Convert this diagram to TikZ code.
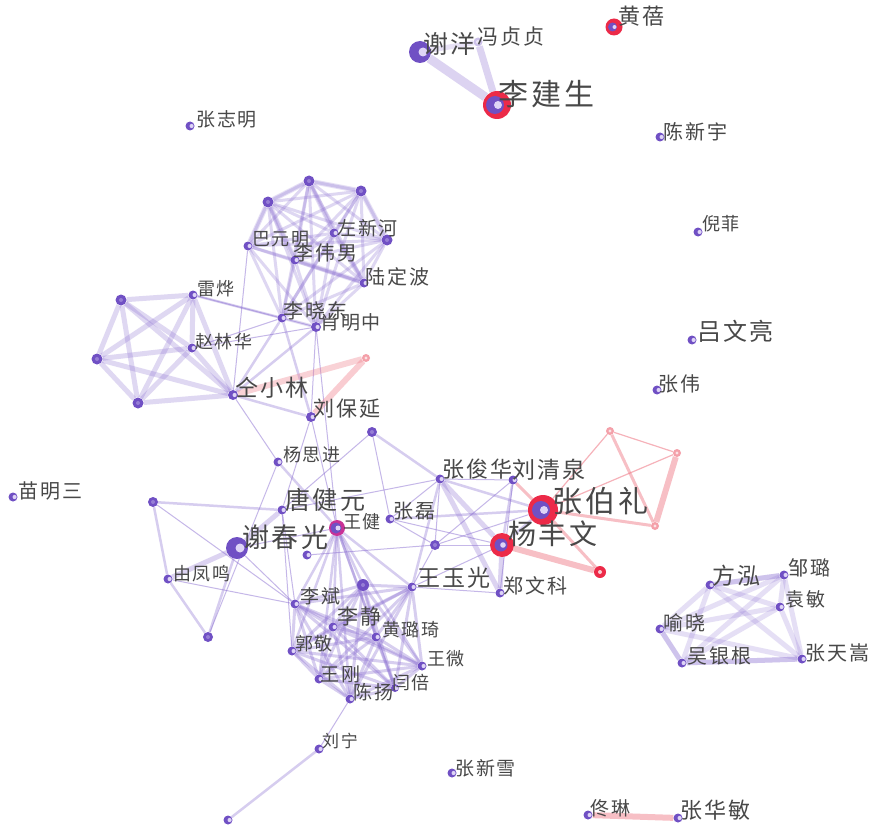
\documentclass[tikz,border=0pt]{standalone}
\usepackage{fontspec}
\newfontfamily\cjk[LetterSpace=10]{Noto Sans CJK SC}
\pgfdeclarelayer{back}
\pgfdeclarelayer{bg}
\pgfsetlayers{back,bg,main}
\definecolor{nodeP}{RGB}{112,80,196}
\definecolor{edgeP}{RGB}{140,112,210}
\definecolor{redN}{RGB}{236,42,72}
\definecolor{pinkE}{RGB}{240,128,140}
\definecolor{labG}{RGB}{72,72,72}
\definecolor{hiL}{RGB}{222,212,246}
\definecolor{magN}{RGB}{200,50,150}
\newcommand\fs[1]{\cjk\fontsize{#1}{#1}\selectfont}
\tikzset{
 nd/.style={circle,fill=nodeP,inner sep=0pt,minimum size=#1},
 nd/.default=9pt,
 rnd/.style={circle,fill=redN,inner sep=0pt,minimum size=#1},
 pnd/.style={circle,fill=pinkE!75,inner sep=0pt,minimum size=8pt},
 eT/.style={draw=edgeP,line width=1pt,opacity=.5},
 eM/.style={draw=edgeP,line width=2.5pt,opacity=.35},
 eK/.style={draw=edgeP,line width=5pt,opacity=.3},
 eV/.style={draw=edgeP,line width=9pt,opacity=.3},
 eC/.style={draw=edgeP,line width=3pt,opacity=.28},
 pT/.style={draw=pinkE,line width=1.2pt,opacity=.6},
 pM/.style={draw=pinkE,line width=3pt,opacity=.5},
 pK/.style={draw=pinkE,line width=6pt,opacity=.5},
 lab/.style={inner sep=0pt,anchor=west,text=labG},
}
\begin{document}
\begin{tikzpicture}[x=1pt,y=-1pt]
\useasboundingbox (0,0) rectangle (869,829);
\begin{pgfonlayer}{back}
\fill[white] (0,0) rectangle (869,829);
\end{pgfonlayer}
% ---------- nodes ----------
\node[nd=22pt] (xy) at (420,52) {};
\node[nd=9pt,fill=nodeP!35] (fzz) at (478,42) {};
\node[rnd=28pt] (ljs) at (497,105) {};
\node[rnd=17pt] (hb) at (614,27) {};
\node[nd] (zzm) at (190,126) {};
\node[nd] (cxy) at (660,137) {};
\node[nd] (nf) at (698,232) {};
\node[nd] (lwl) at (692,340) {};
\node[nd] (zw) at (657,390) {};
\node[nd] (mms) at (13,497) {};
% top cluster
\node[nd=11pt] (t1) at (309,181) {};
\node[nd=11pt] (t2) at (268,202) {};
\node[nd=11pt] (t3) at (361,191) {};
\node[nd] (zxh) at (334,233) {};
\node[nd=11pt] (t5) at (387,240) {};
\node[nd] (bym) at (248,246) {};
\node[nd] (lwn) at (295,260) {};
\node[nd] (ldb) at (364,283) {};
\node[nd] (lxd) at (282,318) {};
\node[nd=10pt] (xmz) at (316,327) {};
% left cluster
\node[nd] (ly) at (193,295) {};
\node[nd=11pt] (l1) at (121,300) {};
\node[nd=11pt] (l2) at (97,359) {};
\node[nd=11pt] (l3) at (138,403) {};
\node[nd] (zlh) at (192,348) {};
\node[nd=10pt] (txl) at (233,395) {};
\node[pnd] (p1) at (366,358) {};
\node[nd=10pt] (lby) at (311,417) {};
% middle
\node[nd=10pt] (u1) at (372,432) {};
\node[nd] (ysj) at (278,462) {};
\node[nd=10pt] (u2) at (153,502) {};
\node[nd] (tjy) at (282,510) {};
\node[circle,fill=magN,inner sep=0pt,minimum size=16pt] (wj) at (337,528) {};
\node[nd] (zl) at (390,519) {};
\node[nd=22pt] (xcg) at (237,548) {};
\node[nd] (u3) at (307,555) {};
\node[nd=10pt] (u4) at (435,545) {};
\node[nd] (zjh) at (440,479) {};
\node[nd] (yfm) at (168,579) {};
\node[nd=10pt] (u5) at (208,637) {};
\node[nd] (lb) at (295,604) {};
\node[nd=12pt] (u6) at (363,585) {};
\node[nd] (wyg) at (412,587) {};
\node[nd] (lj) at (333,627) {};
\node[nd] (hlq) at (376,637) {};
\node[nd] (gj) at (292,651) {};
\node[nd] (ww) at (422,666) {};
\node[nd] (wg) at (319,679) {};
\node[nd=8pt] (yb) at (395,688) {};
\node[nd] (cy) at (350,699) {};
\node[nd] (lqq) at (513,480) {};
\node[rnd=30pt] (zbl) at (543,510) {};
\node[rnd=24pt] (yfw) at (502,545) {};
\node[nd] (zwk) at (500,593) {};
\node[rnd=12pt] (r1) at (600,572) {};
\node[pnd] (p2) at (610,431) {};
\node[pnd] (p3) at (677,453) {};
\node[pnd] (p4) at (655,526) {};
\node[nd] (ln) at (319,749) {};
\node[nd=9pt] (u7) at (228,820) {};
\node[nd] (zxx) at (452,773) {};
\node[nd] (tl) at (588,815) {};
\node[nd] (zhm) at (678,818) {};
% right cluster
\node[nd] (fh) at (710,585) {};
\node[nd] (zlu) at (784,575) {};
\node[nd] (ym) at (780,607) {};
\node[nd] (yx) at (660,629) {};
\node[nd] (wyb) at (682,663) {};
\node[nd] (zts) at (802,659) {};
% ---------- node highlights ----------
\foreach \n in {zzm,cxy,nf,lwl,zw,mms,zxh,bym,lwn,ldb,lxd,xmz,ly,zlh,txl,lby,ysj,tjy,zl,u3,zjh,yfm,lb,wyg,lj,hlq,gj,ww,wg,yb,cy,lqq,zwk,ln,u7,zxx,tl,zhm,fh,zlu,ym,yx,wyb,zts}
  \fill[hiL] ([xshift=1.6pt]\n.center) circle (2.1pt);
\foreach \n in {t1,t2,t3,t5,l1,l2,l3,u1,u2,u4,u5,u6}
  \fill[hiL,opacity=.35] (\n.center) circle (2pt);
\fill[white,opacity=.6] (fzz.center) circle (2pt);
\fill[hiL] ([xshift=3pt]xy.center) circle (4.5pt);
\fill[hiL] ([xshift=3pt]xcg.center) circle (4.5pt);
\fill[nodeP] ([xshift=-2pt]ljs.center) circle (9pt);
\fill[hiL] ([xshift=1pt]ljs.center) circle (4pt);
\fill[nodeP] ([xshift=-1.5pt]hb.center) circle (4.5pt);
\fill[hiL] ([xshift=0.5pt]hb.center) circle (2pt);
\fill[nodeP] ([xshift=-2pt]zbl.center) circle (9pt);
\fill[hiL] ([xshift=1pt]zbl.center) circle (4pt);
\fill[nodeP] ([xshift=-1pt]yfw.center) circle (6.5pt);
\fill[hiL] ([xshift=1pt]yfw.center) circle (2.8pt);
\fill[nodeP] ([xshift=-1pt]wj.center) circle (5.5pt);
\fill[hiL] ([xshift=1pt]wj.center) circle (2.5pt);
\fill[pinkE!40] (r1.center) circle (2pt);
\foreach \n in {p1,p2,p3,p4} \fill[white,opacity=.7] (\n.center) circle (1.6pt);
% ---------- edges ----------
\begin{pgfonlayer}{bg}
\draw[eV] (xy) -- (ljs);
\draw[eK,line width=7pt] (fzz) -- (ljs);
\draw[eM,opacity=.2,line width=5pt] (xy) -- (fzz);
% top cluster complete graph
\foreach \a [count=\i] in {t1,t2,t3,zxh,t5,bym,lwn,ldb,lxd,xmz}
  \foreach \b [count=\j] in {t1,t2,t3,zxh,t5,bym,lwn,ldb,lxd,xmz}
    {\ifnum\j>\i \draw[eC] (\a) -- (\b); \fi}
\draw[eK,opacity=.22] (t1) -- (t2);
\draw[eK,opacity=.22] (t1) -- (t3);
\draw[eK,opacity=.22] (t3) -- (t5);
\draw[eK,opacity=.22] (zxh) -- (ldb);
\draw[eK,opacity=.22] (lwn) -- (ldb);
\draw[eK,opacity=.22] (t2) -- (lwn);
\draw[eK,opacity=.22] (t1) -- (zxh);
\draw[eK,opacity=.22] (t2) -- (bym);
% left cluster complete graph
\foreach \a [count=\i] in {ly,l1,l2,l3,zlh,txl}
  \foreach \b [count=\j] in {ly,l1,l2,l3,zlh,txl}
    {\ifnum\j>\i \draw[eK,opacity=.27] (\a) -- (\b); \fi}
% cross edges
\foreach \a/\b in {ly/lxd,txl/lxd,txl/xmz,lxd/lby,txl/lby,ysj/wj,u1/zjh,tjy/u2,yfm/u2,yfm/u5,xcg/u5,zjh/wyg,zjh/zbl,lqq/yfw,zl/zbl}
  \draw[eM] (\a) -- (\b);
\foreach \a/\b in {zlh/xmz,zlh/lxd,xmz/lby,xmz/wj,bym/txl,lby/wj,lby/tjy,txl/ysj,ysj/u5,u1/tjy,u1/zl,zjh/tjy,u2/lb,yfm/lb,xcg/lb,tjy/lb,u3/u4,zl/yfw,zl/zjh,u4/zjh,u4/wyg,u4/zbl,u4/lqq,u4/yfw,u4/zl,lqq/zwk,lqq/zjh,wyg/yfw,wyg/zwk,tjy/gj,ly/xmz,xcg/wj}
  \draw[eT] (\a) -- (\b);
\draw[eK] (xcg) -- (tjy);
\draw[eK] (xcg) -- (yfm);
\draw[eK] (zjh) -- (yfw);
\draw[eK] (zjh) -- (zwk);
\draw[eK] (yfw) -- (zwk);
\draw[eM] (yfw) -- (zbl);
% wang jian fan
\foreach \b in {lb,u6,wyg,lj,hlq,gj,ww,wg,yb,cy}
  \draw[eM,opacity=.35] (wj) -- (\b);
% lower cluster complete graph
\foreach \a [count=\i] in {lb,u6,wyg,lj,hlq,gj,ww,wg,yb,cy}
  \foreach \b [count=\j] in {lb,u6,wyg,lj,hlq,gj,ww,wg,yb,cy}
    {\ifnum\j>\i \draw[eC,opacity=.34] (\a) -- (\b); \fi}
\draw[eT] (cy) -- (ln);
\draw[eM] (ln) -- (u7);
% pink edges
\draw[pK,opacity=.35] (txl) -- (p1);
\draw[pK,opacity=.4] (lby) -- (p1);
\draw[pM] (lqq) -- (zbl);
\draw[pM] (zbl) -- (r1);
\draw[pK] (yfw) -- (r1);
\draw[pT] (zbl) -- (p2);
\draw[pT] (zbl) -- (p3);
\draw[pM] (zbl) -- (p4);
\draw[pT] (p2) -- (p3);
\draw[pM] (p2) -- (p4);
\draw[pK] (p3) -- (p4);
\draw[pK] (tl) -- (zhm);
% right cluster complete graph
\foreach \a [count=\i] in {fh,zlu,ym,yx,wyb,zts}
  \foreach \b [count=\j] in {fh,zlu,ym,yx,wyb,zts}
    {\ifnum\j>\i \draw[eK,opacity=.22] (\a) -- (\b); \fi}
\draw[eK,opacity=.25] (fh) -- (zlu);
\draw[eK,opacity=.25] (yx) -- (wyb);
\draw[eK,opacity=.25] (wyb) -- (zts);
\end{pgfonlayer}
% ---------- labels ----------
\node[lab,font=\fs{25}] (L-xy) at (423,43.5) {谢洋};
\node[lab,font=\fs{21}] (L-fzz) at (477,36.5) {冯贞贞};
\node[lab,font=\fs{30}] (L-ljs) at (498,94) {李建生};
\node[lab,font=\fs{22}] (L-hb) at (618,16.5) {黄蓓};
\node[lab,font=\fs{19}] (L-zzm) at (196,119) {张志明};
\node[lab,font=\fs{20}] (L-cxy) at (663,132) {陈新宇};
\node[lab,font=\fs{18}] (L-nf) at (702,224) {倪菲};
\node[lab,font=\fs{24}] (L-lwl) at (697,331) {吕文亮};
\node[lab,font=\fs{20}] (L-zw) at (658,384) {张伟};
\node[lab,font=\fs{20}] (L-mms) at (18,491) {苗明三};
\node[lab,font=\fs{19}] (L-zxh) at (337,228) {左新河};
\node[lab,font=\fs{18}] (L-bym) at (252,239) {巴元明};
\node[lab,font=\fs{20}] (L-lwn) at (293,252.5) {李伟男};
\node[lab,font=\fs{20}] (L-ldb) at (365,277) {陆定波};
\node[lab,font=\fs{18}] (L-ly) at (197,288.5) {雷烨};
\node[lab,font=\fs{20}] (L-lxd) at (283,310.5) {李晓东};
\node[lab,font=\fs{19}] (L-xmz) at (320,322) {肖明中};
\node[lab,font=\fs{18}] (L-zlh) at (195,342) {赵林华};
\node[lab,font=\fs{23}] (L-txl) at (235,387.5) {仝小林};
\node[lab,font=\fs{21}] (L-lby) at (313,409) {刘保延};
\node[lab,font=\fs{18}] (L-ysj) at (283,455) {杨思进};
\node[lab,font=\fs{25}] (L-tjy) at (285,500) {唐健元};
\node[lab,font=\fs{18}] (L-wj) at (343,521.5) {王健};
\node[lab,font=\fs{20}] (L-zl) at (393,511.5) {张磊};
\node[lab,font=\fs{27}] (L-xcg) at (242,537.5) {谢春光};
\node[lab,font=\fs{18}] (L-yfm) at (173,573.5) {由凤鸣};
\node[lab,font=\fs{19}] (L-lb) at (300,596) {李斌};
\node[lab,font=\fs{21}] (L-lj) at (337,616.5) {李静};
\node[lab,font=\fs{18}] (L-hlq) at (382,630) {黄璐琦};
\node[lab,font=\fs{23}] (L-wyg) at (417,578) {王玉光};
\node[lab,font=\fs{22}] (L-zjh) at (442,469) {张俊华};
\node[lab,font=\fs{23}] (L-lqq) at (512,470) {刘清泉};
\node[lab,font=\fs{30}] (L-zbl) at (552,501) {张伯礼};
\node[lab,font=\fs{28}] (L-yfw) at (508,534) {杨丰文};
\node[lab,font=\fs{20}] (L-zwk) at (503,586) {郑文科};
\node[lab,font=\fs{18}] (L-gj) at (295,644) {郭敬};
\node[lab,font=\fs{18}] (L-ww) at (427,659) {王微};
\node[lab,font=\fs{19}] (L-wg) at (320,674) {王刚};
\node[lab,font=\fs{18}] (L-yb) at (392,682.5) {闫倍};
\node[lab,font=\fs{19}] (L-cy) at (353,692.5) {陈扬};
\node[lab,font=\fs{17}] (L-ln) at (322,741) {刘宁};
\node[lab,font=\fs{19}] (L-zxx) at (455,768) {张新雪};
\node[lab,font=\fs{19}] (L-tl) at (590,808) {佟琳};
\node[lab,font=\fs{22}] (L-zhm) at (680,810) {张华敏};
\node[lab,font=\fs{23}] (L-fh) at (712,576) {方泓};
\node[lab,font=\fs{20}] (L-zlu) at (788,567.5) {邹璐};
\node[lab,font=\fs{19}] (L-ym) at (785,599) {袁敏};
\node[lab,font=\fs{20}] (L-yx) at (663,622.5) {喻晓};
\node[lab,font=\fs{20}] (L-wyb) at (687,656) {吴银根};
\node[lab,font=\fs{20}] (L-zts) at (805,653) {张天嵩};
\end{tikzpicture}
\end{document}
